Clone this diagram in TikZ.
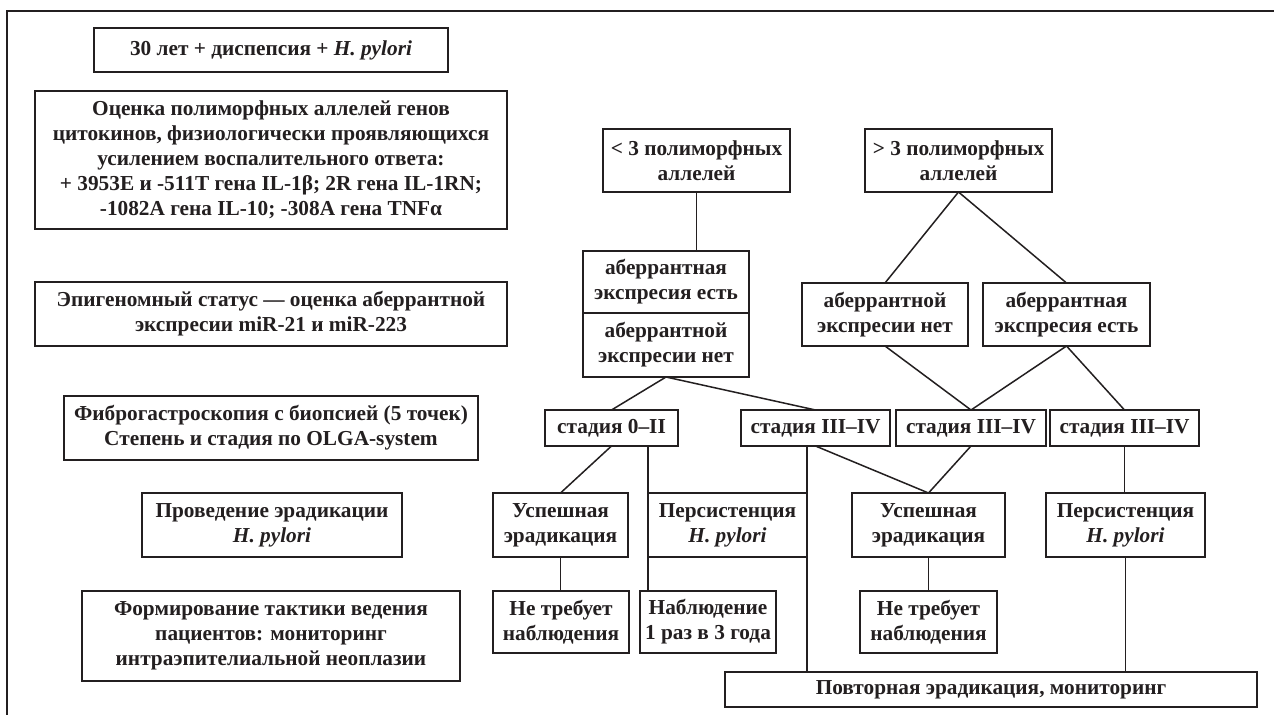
\documentclass[tikz,border=0pt]{standalone}
\usepackage{fontspec}
\setmainfont{Liberation Serif}
\definecolor{ink}{RGB}{35,31,32}
\tikzset{
  bx/.style={draw=ink, line width=1.7pt, inner sep=0pt, outer sep=0pt, align=center,
    text=ink, font=\bfseries\fontsize{21.3}{25}\selectfont},
  ln/.style={draw=ink, line width=1.5pt},
  frm/.style={draw=ink, line width=1.6pt}
}
\newcommand{\hp}{\textit{H.~pylori}}
\begin{document}
\begin{tikzpicture}[x=1pt,y=-1pt]
\useasboundingbox (0,0) rectangle (1274,715);
\fill[white] (0,0) rectangle (1274,715);
\draw[frm] (1274,11) -- (7,11) -- (7,715);

% left column
\node[bx, minimum width=354pt, minimum height=44pt] (b1) at (271,50) {30 лет + диспепсия + \hp};
\node[bx, minimum width=472pt, minimum height=138pt] (b2) at (271,160) {Оценка полиморфных аллелей генов\\цитокинов, физиологически проявляющихся\\усилением воспалительного ответа:\\+ 3953E и -511T гена IL-1β; 2R гена IL-1RN;\\-1082A гена IL-10; -308A гена TNFα};
\node[bx, minimum width=472pt, minimum height=64pt] (b3) at (271,314) {Эпигеномный статус — оценка аберрантной\\экспресии miR-21 и miR-223};
\node[bx, minimum width=414pt, minimum height=64pt] (b4) at (271,428) {Фиброгастроскопия с биопсией (5 точек)\\Степень и стадия по OLGA-system};
\node[bx, minimum width=260pt, minimum height=64pt] (b5) at (272,525) {Проведение эрадикации\\\hp};
\node[bx, minimum width=378pt, minimum height=90pt] (b6) at (271,636) {Формирование тактики ведения\\пациентов: мониторинг\\интраэпителиальной неоплазии};

% right tree
\node[bx, minimum width=187pt, minimum height=63pt] (lt) at (696.5,160.5) {< 3 полиморфных\\аллелей};
\node[bx, minimum width=187pt, minimum height=63pt] (gt) at (958.5,160.5) {> 3 полиморфных\\аллелей};

\node[bx, minimum width=166pt, minimum height=62pt] (ae1) at (666,282) {аберрантная\\экспресия есть};
\node[bx, minimum width=166pt, minimum height=64pt] (an1) at (666,345) {аберрантной\\экспресии нет};
\node[bx, minimum width=166pt, minimum height=63pt] (an2) at (885,314.5) {аберрантной\\экспресии нет};
\node[bx, minimum width=167pt, minimum height=63pt] (ae2) at (1066.5,314.5) {аберрантная\\экспресия есть};

\node[bx, minimum width=133pt, minimum height=36pt] (s0) at (611.5,428) {стадия 0–II};
\node[bx, minimum width=149pt, minimum height=36pt] (s1) at (815.5,428) {стадия III–IV};
\node[bx, minimum width=150pt, minimum height=36pt] (s2) at (971,428) {стадия III–IV};
\node[bx, minimum width=149pt, minimum height=36pt] (s3) at (1124.5,428) {стадия III–IV};

\node[bx, minimum width=135pt, minimum height=64pt] (u1) at (560.5,525) {Успешная\\эрадикация};
\node[bx, minimum width=159pt, minimum height=64pt] (p1) at (727.5,525) {Персистенция\\\hp};
\node[bx, minimum width=153pt, minimum height=64pt] (u2) at (928.5,525) {Успешная\\эрадикация};
\node[bx, minimum width=159pt, minimum height=64pt] (p2) at (1125.5,525) {Персистенция\\\hp};

\node[bx, minimum width=136pt, minimum height=62pt] (n1) at (561,622) {Не требует\\наблюдения};
\node[bx, minimum width=136pt, minimum height=62pt] (nb) at (708,622) {Наблюдение\\1 раз в 3 года};
\node[bx, minimum width=137pt, minimum height=62pt] (n2) at (928.5,622) {Не требует\\наблюдения};

\node[bx, minimum width=532pt, minimum height=35pt] (pov) at (991,689.5) {Повторная эрадикация, мониторинг};

% connectors
\draw[ln] (lt.south) -- (lt.south |- ae1.north);
\draw[ln] (gt.south) -- (an2.north);
\draw[ln] (gt.south) -- (ae2.north);
\draw[ln] (an1.south) -- (s0.north);
\draw[ln] (an1.south) -- (s1.north);
\draw[ln] (an2.south) -- (s2.north);
\draw[ln] (ae2.south) -- (s2.north);
\draw[ln] (ae2.south) -- (s3.north);
\draw[ln] (s0.south) -- (u1.north);
\draw[ln] (s0.south -| p1.west) -- (nb.north -| p1.west);
\draw[ln] (s1.south -| p1.east) -- (pov.north -| p1.east);
\draw[ln] (s1.south) -- (u2.north);
\draw[ln] (s2.south) -- (u2.north);
\draw[ln] (u1.south) -- (u1.south |- n1.north);
\draw[ln] (u2.south) -- (u2.south |- n2.north);
\draw[ln] (s3.south) -- (s3.south |- p2.north);
\draw[ln] (p2.south) -- (p2.south |- pov.north);
\end{tikzpicture}
\end{document}
